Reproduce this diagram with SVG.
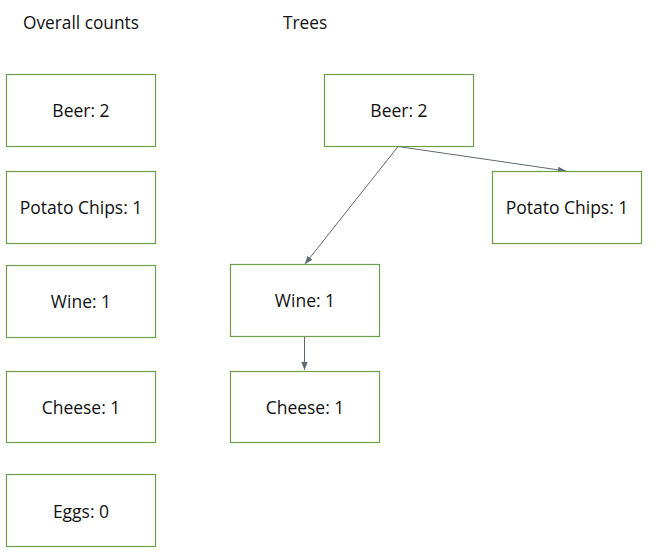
<svg xmlns="http://www.w3.org/2000/svg" width="660" height="554" viewBox="0 0 660 554">
<defs>
<style>
.box{fill:#fff;stroke:#6E9F4C;stroke-width:1.2}
.t{font-family:"Open Sans","Liberation Sans",sans-serif;font-size:17.5px;fill:#111;text-anchor:middle}
.h{font-family:"Open Sans","Liberation Sans",sans-serif;font-size:17.3px;fill:#111}
.c{stroke:#5f6873;stroke-width:1;fill:none;marker-end:url(#ah)}
</style>
<marker id="ah" viewBox="0 0 10 10" refX="10" refY="5" markerWidth="8" markerHeight="8" markerUnits="userSpaceOnUse" orient="auto">
<path d="M0,1 L10,5 L0,9 z" fill="#5f6873"/>
</marker>
</defs>
<rect width="660" height="554" fill="#fff"/>
<text class="h" x="23" y="29">Overall counts</text>
<text class="h" x="283" y="29">Trees</text>
<g id="connectors">
<line class="c" x1="398" y1="146.5" x2="305" y2="264"/>
<line class="c" x1="398" y1="146.5" x2="566" y2="171"/>
<line class="c" x1="304.5" y1="337" x2="304.5" y2="370"/>
</g>
<g id="oc-beer"><rect class="box" x="6.5" y="74.5" width="149" height="72"/><text class="t" x="81" y="117">Beer: 2</text></g>
<g id="oc-chips"><rect class="box" x="6.5" y="171.5" width="149" height="72"/><text class="t" x="81" y="214">Potato Chips: 1</text></g>
<g id="oc-wine"><rect class="box" x="6.5" y="265.5" width="149" height="72"/><text class="t" x="81" y="308">Wine: 1</text></g>
<g id="oc-cheese"><rect class="box" x="6.5" y="371.5" width="149" height="71"/><text class="t" x="81" y="414">Cheese: 1</text></g>
<g id="oc-eggs"><rect class="box" x="6.5" y="474.5" width="149" height="72"/><text class="t" x="81" y="518">Eggs: 0</text></g>
<g id="t-beer"><rect class="box" x="324.5" y="74.5" width="149" height="72"/><text class="t" x="399" y="117">Beer: 2</text></g>
<g id="t-chips"><rect class="box" x="492.5" y="171.5" width="149" height="72"/><text class="t" x="567" y="214">Potato Chips: 1</text></g>
<g id="t-wine"><rect class="box" x="230.5" y="264.5" width="149" height="72"/><text class="t" x="305" y="307">Wine: 1</text></g>
<g id="t-cheese"><rect class="box" x="230.5" y="371.5" width="149" height="71"/><text class="t" x="305" y="414">Cheese: 1</text></g>
</svg>
